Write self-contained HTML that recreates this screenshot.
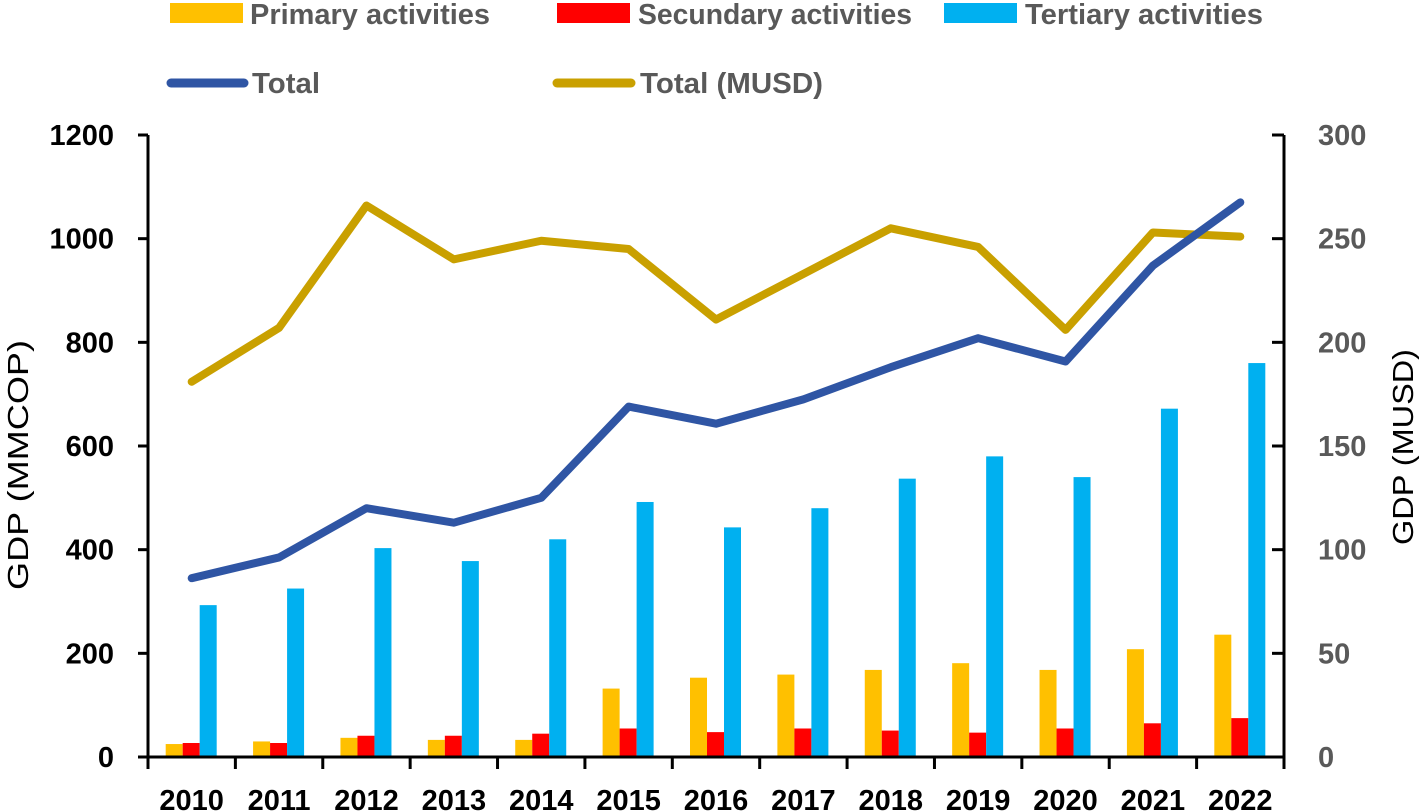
<!DOCTYPE html>
<html><head><meta charset="utf-8"><style>
html,body{margin:0;padding:0;background:#fff;}
svg{display:block;font-family:"Liberation Sans",sans-serif;}
</style></head><body>
<svg id="chart" width="1421" height="812">
<g id="legend">
 <g><rect x="170" y="3" width="73" height="20" fill="#FFC000"/><text x="250" y="24" font-size="29" fill="#595959" font-weight="bold" textLength="240" lengthAdjust="spacingAndGlyphs">Primary activities</text></g>
 <g><rect x="557" y="3" width="73" height="20" fill="#FF0000"/><text x="638" y="24" font-size="29" fill="#595959" font-weight="bold" textLength="274" lengthAdjust="spacingAndGlyphs">Secundary activities</text></g>
 <g><rect x="944" y="3" width="73" height="20" fill="#00B0F0"/><text x="1025" y="24" font-size="29" fill="#595959" font-weight="bold" textLength="238" lengthAdjust="spacingAndGlyphs">Tertiary activities</text></g>
 <g><line x1="171" y1="83" x2="244" y2="83" stroke="#2F55A4" stroke-width="9" stroke-linecap="round"/><text x="252" y="93" font-size="29" fill="#595959" font-weight="bold" textLength="68" lengthAdjust="spacingAndGlyphs">Total</text></g>
 <g><line x1="557" y1="83" x2="631" y2="83" stroke="#C9A000" stroke-width="9" stroke-linecap="round"/><text x="640" y="93" font-size="29" fill="#595959" font-weight="bold" textLength="183" lengthAdjust="spacingAndGlyphs">Total (MUSD)</text></g>
</g>
<g id="plot"></g>
<text transform="translate(28,465) rotate(-90)" text-anchor="middle" font-size="29" fill="#000" textLength="250" lengthAdjust="spacingAndGlyphs">GDP (MMCOP)</text>
<text transform="translate(1413,447) rotate(-90)" text-anchor="middle" font-size="29" fill="#000" textLength="196" lengthAdjust="spacingAndGlyphs">GDP (MUSD)</text>
</svg>
<script>
const years=["2010","2011","2012","2013","2014","2015","2016","2017","2018","2019","2020","2021","2022"];
const primary=[25,30,37,33,33,132,153,159,168,181,168,208,236];
const secondary=[27,27,41,41,45,55,48,55,51,47,55,65,75];
const tertiary=[293,325,403,378,420,492,443,480,537,580,540,672,760];
const total=[345,385,480,452,500,676,643,690,752,808,763,948,1070];
const totalMUSD=[181,207,266,240,249,245,211,233,255,246,206,253,251];
const leftTicks=[0,200,400,600,800,1000,1200];
const rightTicks=[0,50,100,150,200,250,300];

const NS="http://www.w3.org/2000/svg";
const g=document.getElementById('plot');
const X0=148,X1=1284,Y0=757,Y1=135;
const band=(X1-X0)/years.length;
const yL=v=>Y0-(v/1200)*(Y0-Y1);
const yR=v=>Y0-(v/300)*(Y0-Y1);
const xc=i=>X0+band*(i+0.5);
function mk(tag,attrs){const e=document.createElementNS(NS,tag);for(const k in attrs)e.setAttribute(k,attrs[k]);g.appendChild(e);return e;}

const bw=17;
const series=[[primary,"#FFC000","bar-primary"],[secondary,"#FF0000","bar-secondary"],[tertiary,"#00B0F0","bar-tertiary"]];
years.forEach((y,i)=>{
  series.forEach(([arr,col,nm],s)=>{
    const x=xc(i)-26+s*bw;
    const r=mk('rect',{x:x,y:yL(arr[i]),width:bw,height:Y0-yL(arr[i]),fill:col});
    
    
  });
});
function line(arr,scale,col,nm){
  const p=mk('polyline',{points:arr.map((v,i)=>xc(i)+','+scale(v)).join(' '),fill:'none',stroke:col,'stroke-width':8,'stroke-linejoin':'round','stroke-linecap':'round'});
  
  
}
line(totalMUSD,yR,"#C9A000","line-total-musd");
line(total,yL,"#2F55A4","line-total");

let a=mk('line',{x1:X0,y1:Y1,x2:X0,y2:Y0+2,stroke:'#000','stroke-width':3});


a=mk('line',{x1:X1,y1:Y1,x2:X1,y2:Y0+2,stroke:'#000','stroke-width':3});


a=mk('line',{x1:X0-1,y1:Y0,x2:X1+1,y2:Y0,stroke:'#000','stroke-width':3});


leftTicks.forEach(v=>{
  mk('line',{x1:X0-10,y1:yL(v),x2:X0,y2:yL(v),stroke:'#000','stroke-width':3});
  const t=mk('text',{x:114,y:yL(v)+10,'text-anchor':'end','font-size':29,fill:'#000','font-weight':'bold'});
  t.textContent=v;
  
  
});
rightTicks.forEach(v=>{
  mk('line',{x1:X1-12,y1:yR(v),x2:X1,y2:yR(v),stroke:'#000','stroke-width':3});
  const t=mk('text',{x:1318,y:yR(v)+10,'text-anchor':'start','font-size':29,fill:'#595959','font-weight':'bold'});
  t.textContent=v;
  
  
});
for(let i=0;i<=years.length;i++){
  mk('line',{x1:X0+band*i,y1:Y0,x2:X0+band*i,y2:Y0+12,stroke:'#000','stroke-width':3});
}
years.forEach((y,i)=>{
  const t=mk('text',{x:xc(i),y:810,'text-anchor':'middle','font-size':29,'font-weight':'bold',fill:'#000'});
  t.textContent=y;
  
  
});
</script>
</body></html>
